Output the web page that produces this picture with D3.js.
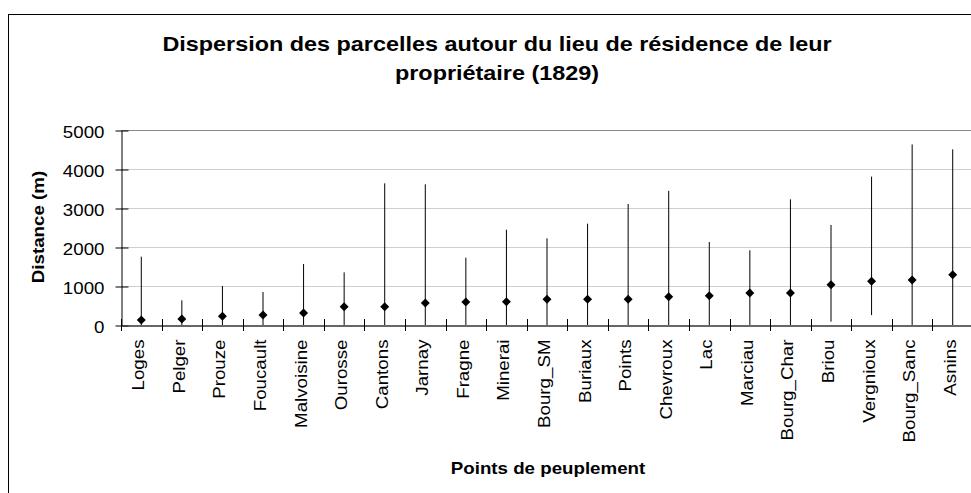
<!DOCTYPE html>
<html>
<head>
<meta charset="utf-8">
<script src="https://cdn.jsdelivr.net/npm/d3@7"></script>
<style>
  html, body { margin: 0; padding: 0; background: #fff; }
  svg { display: block; font-family: "Liberation Sans", Arial, sans-serif; }
</style>
</head>
<body>
<svg id="chart" width="971" height="493"></svg>
<script>
// Points de peuplement (ordered by mean distance)
const categories = ["Loges", "Pelger", "Prouze", "Foucault", "Malvoisine", "Ourosse", "Cantons",
  "Jarnay", "Fragne", "Minerai", "Bourg_SM", "Buriaux", "Points", "Chevroux", "Lac", "Marciau",
  "Bourg_Char", "Briou", "Vergnioux", "Bourg_Sanc", "Asnins"];
// Mean distance of the parcels to the owner's residence (m)
const moyenne = [128, 154, 222, 256, 308, 470, 470, 564, 590, 598, 658, 658, 658, 726, 752, 820,
  820, 1034, 1122, 1156, 1290];
// Largest distance (m)
const maximum = [1752, 632, 1000, 846, 1564, 1350, 3632, 3607, 1726, 2444, 2222, 2598, 3102, 3440,
  2128, 1915, 3222, 2564, 3805, 4630, 4504];
// Smallest distance (m)
const minimum = [0, 0, 0, 0, 0, 0, 0, 0, 0, 0, 0, 0, 0, 0, 0, 0, 0, 85, 254, 0, 0];
// Value axis ticks
const yTicks = [0, 1000, 2000, 3000, 4000, 5000];

const title = ["Dispersion des parcelles autour du lieu de résidence de leur", "propriétaire (1829)"];
const yTitle = "Distance (m)";
const xTitle = "Points de peuplement";

// horizontal stretch applied to the text along its reading direction
const S = 1.17;

const svg = d3.select("#chart");
const plot = { left: 121, right: 973, top: 130, bottom: 325 };

const x = d3.scaleBand().domain(categories).range([plot.left, plot.right]).padding(0);
const y = d3.scaleLinear().domain([0, 5000]).range([plot.bottom, plot.top]);

// outer chart frame
svg.append("rect")
  .attr("x", 8.5).attr("y", 14.5).attr("width", 1000).attr("height", 520)
  .attr("fill", "none").attr("stroke", "#000").attr("stroke-width", 1);

// title
svg.append("g").selectAll("text").data(title).join("text")
  .attr("transform", (d, i) => `translate(497,${51 + i * 29}) scale(${S},1)`)
  .attr("text-anchor", "middle")
  .attr("font-size", 20).attr("font-weight", "bold").attr("fill", "#000")
  .text(d => d);

// horizontal gridlines
svg.append("g").selectAll("line").data(yTicks.filter(v => v > 0)).join("line")
  .attr("x1", plot.left).attr("x2", plot.right)
  .attr("y1", d => Math.round(y(d)) + 0.5).attr("y2", d => Math.round(y(d)) + 0.5)
  .attr("stroke", d => d === 5000 ? "#888" : "#cfcfcf").attr("stroke-width", 1);

// y axis
const yAxis = svg.append("g")
  .attr("transform", `translate(${plot.left + 0.5},0.5)`)
  .call(d3.axisLeft(y).tickValues(yTicks).tickSize(6).tickSizeOuter(0).tickFormat(d3.format("d")));
yAxis.select(".domain").attr("stroke", "#000");
yAxis.selectAll(".tick line").attr("x1", 7).attr("x2", -6).attr("stroke", "#000");
yAxis.selectAll(".tick text")
  .attr("x", null).attr("dy", null)
  .attr("transform", `translate(-17,6.5) scale(${S},1)`)
  .attr("font-size", 16).attr("font-family", "Liberation Sans, Arial, sans-serif").attr("fill", "#000");

// x axis (category labels)
const xAxis = svg.append("g")
  .attr("transform", `translate(0,${plot.bottom + 0.5})`)
  .call(d3.axisBottom(x).tickSize(0).tickSizeOuter(0));
xAxis.select(".domain").attr("stroke", "#333").attr("stroke-width", 1.5);
xAxis.selectAll(".tick text")
  .attr("y", null).attr("dy", null)
  .attr("text-anchor", "end")
  .attr("transform", `translate(3,14) rotate(-90) scale(${S},1)`)
  .attr("font-size", 16).attr("font-family", "Liberation Sans, Arial, sans-serif").attr("fill", "#000");

// boundary ticks between categories, crossing the axis
const bounds = categories.map(c => x(c)).concat([x.range()[1]]);
svg.append("g").selectAll("line").data(bounds).join("line")
  .attr("x1", d => Math.round(d) + 0.5).attr("x2", d => Math.round(d) + 0.5)
  .attr("y1", plot.bottom - 6).attr("y2", plot.bottom + 6)
  .attr("stroke", "#000").attr("stroke-width", 1);

// min-max range lines
const cx = c => x(c) + x.bandwidth() / 2;
svg.append("g").selectAll("line").data(categories).join("line")
  .attr("x1", d => cx(d)).attr("x2", d => cx(d))
  .attr("y1", (d, i) => y(minimum[i])).attr("y2", (d, i) => y(maximum[i]))
  .attr("stroke", "#000").attr("stroke-width", 1);

// mean markers
const diamond = d3.symbol(d3.symbolSquare, 40);
svg.append("g").selectAll("path").data(categories).join("path")
  .attr("d", diamond)
  .attr("transform", (d, i) => `translate(${cx(d)},${y(moyenne[i])}) rotate(45)`)
  .attr("fill", "#000");

// axis titles
svg.append("text")
  .attr("transform", `translate(44,227) rotate(-90) scale(${S},1)`)
  .attr("text-anchor", "middle").attr("font-size", 16).attr("font-weight", "bold")
  .text(yTitle);
svg.append("text")
  .attr("transform", `translate(548,474) scale(${S},1)`)
  .attr("text-anchor", "middle").attr("font-size", 16).attr("font-weight", "bold")
  .text(xTitle);
</script>
</body>
</html>
